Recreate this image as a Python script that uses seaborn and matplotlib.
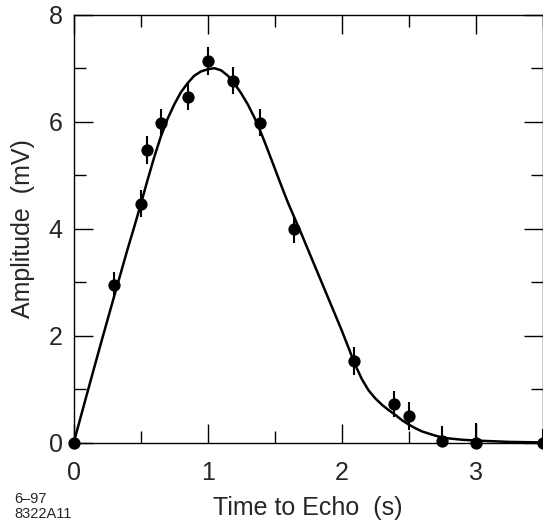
import matplotlib
matplotlib.use("Agg")
import matplotlib.pyplot as plt
import seaborn as sns
import pandas as pd
from matplotlib.ticker import MultipleLocator

# measured points
x_pts = [0.0, 0.30, 0.50, 0.545, 0.65, 0.85, 1.0, 1.19, 1.39, 1.645, 2.09, 2.39, 2.50, 2.75, 3.0, 3.5]
y_pts = [0.0, 2.95, 4.47, 5.47, 5.97, 6.47, 7.14, 6.77, 5.98, 3.99, 1.52, 0.72, 0.50, 0.04, 0.0, 0.0]
y_err = [0.0, 0.25, 0.25, 0.26, 0.26, 0.25, 0.26, 0.25, 0.25, 0.25, 0.26, 0.24, 0.26, 0.27, 0.36, 0.25]

# fitted curve
x_fit = [0.0, 0.1, 0.2, 0.3, 0.4, 0.45, 0.5, 0.55, 0.6, 0.65, 0.7, 0.75, 0.8, 0.85, 0.9,
         0.95, 1.0, 1.05, 1.1, 1.15, 1.2, 1.25, 1.3, 1.35, 1.4, 1.45, 1.5, 1.55, 1.6, 1.7,
         1.8, 1.9, 1.95, 2.0, 2.05, 2.1, 2.15, 2.2, 2.25, 2.3, 2.35, 2.4, 2.45, 2.5, 2.55,
         2.6, 2.65, 2.7, 2.75, 2.8, 2.9, 3.0, 3.1, 3.25, 3.5]
y_fit = [0.0, 0.92, 1.83, 2.72, 3.6, 4.02, 4.45, 4.9, 5.33, 5.72, 6.05, 6.32, 6.55, 6.72,
         6.86, 6.94, 6.98, 7.0, 6.96, 6.86, 6.71, 6.53, 6.32, 6.07, 5.78, 5.46, 5.13, 4.8,
         4.48, 3.9, 3.3, 2.7, 2.4, 2.1, 1.78, 1.46, 1.19, 0.98, 0.83, 0.71, 0.61, 0.52, 0.42,
         0.34, 0.27, 0.21, 0.17, 0.13, 0.1, 0.08, 0.055, 0.04, 0.03, 0.015, 0.005]

x_ticks = [0, 1, 2, 3]
y_ticks = [0, 2, 4, 6, 8]

sns.set_style("ticks")
plt.rcParams["font.family"] = ["Liberation Sans", "DejaVu Sans"]

fig = plt.figure(figsize=(5.43, 5.23), dpi=100)
ax = fig.add_axes([73.7 / 543, (523 - 442.7) / 523, (542.7 - 73.7) / 543, (442.7 - 14.7) / 523])

fit_df = pd.DataFrame({"t": x_fit, "a": y_fit})
pts_df = pd.DataFrame({"t": x_pts, "a": y_pts, "e": y_err})

sns.lineplot(data=fit_df, x="t", y="a", ax=ax, color="black", linewidth=1.8,
             sort=False, estimator=None)
ax.lines[-1].set_solid_joinstyle("round")
ax.errorbar(pts_df["t"], pts_df["a"], yerr=pts_df["e"], fmt="none", ecolor="black",
            elinewidth=1.5, capsize=0)
sns.scatterplot(data=pts_df, x="t", y="a", ax=ax, color="black", s=78,
                edgecolor="black", linewidth=0, clip_on=False, zorder=5)

ax.set_xlim(0, 3.5)
ax.set_ylim(0, 8)
ax.set_xticks(x_ticks)
ax.set_yticks(y_ticks)
ax.xaxis.set_minor_locator(MultipleLocator(0.5))
ax.yaxis.set_minor_locator(MultipleLocator(1))
ax.tick_params(which="both", direction="in", top=True, right=True, width=1.0, color="black")
ax.tick_params(which="major", length=13.5)
ax.tick_params(which="minor", length=8.5)
ax.tick_params(axis="x", which="major", labelsize=18, pad=13)
ax.tick_params(axis="y", which="major", labelsize=18, pad=8)
for sp in ax.spines.values():
    sp.set_visible(True)
    sp.set_linewidth(1.0)
    sp.set_color("black")

ax.set_xlabel("Time to Echo  (s)", fontsize=18)
ax.set_ylabel("Amplitude  (mV)", fontsize=18)
ax.xaxis.set_label_coords(0.5, -0.125)
ax.yaxis.set_label_coords(-0.108, 0.5)
ax.yaxis.label.set_va("center")

fig.text(14 / 543, 0.033, "6\u201397", fontsize=10.5, va="bottom", ha="left")
fig.text(14 / 543, 0.004, "8322A11", fontsize=10.5, va="bottom", ha="left")

fig.savefig("out.png", dpi=100)
